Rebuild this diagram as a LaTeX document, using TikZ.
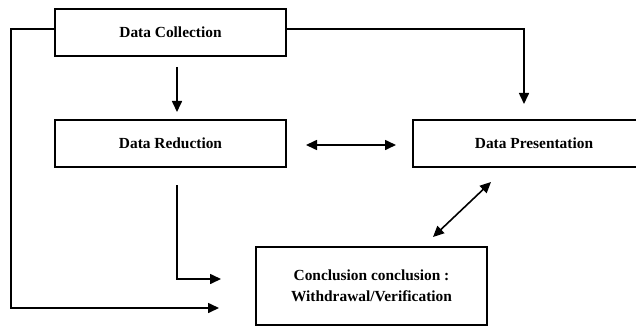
\documentclass[tikz,border=0pt]{standalone}
\usepackage{fontspec}
\setmainfont{Liberation Serif}
\usetikzlibrary{arrows.meta}
\begin{document}
\begin{tikzpicture}[x=1pt,y=-1pt,
  box/.style={draw, line width=1.7pt, inner sep=0pt, font=\bfseries\fontsize{15.4}{21}\selectfont, align=center},
  conn/.style={line width=1.6pt, -{Triangle[length=11pt,width=10pt]}},
  dconn/.style={line width=1.6pt, {Triangle[length=11pt,width=10pt]}-{Triangle[length=11pt,width=10pt]}}]
\useasboundingbox (0,0) rectangle (636,326);
\clip (0,0) rectangle (636,326);
\node[box, minimum width=231pt, minimum height=47pt] (dc) at (170.5,32.5) {Data Collection};
\node[box, minimum width=231pt, minimum height=47pt] (dr) at (170.5,143.5) {Data Reduction};
\node[box, minimum width=242pt, minimum height=47pt] (dp) at (534,143.5) {Data Presentation};
\node[box, minimum width=231pt, minimum height=78pt] (cc) at (371.5,286) {Conclusion conclusion :\\Withdrawal/Verification};
% coordinates for free ends
\coordinate (a1) at (177,67);
\coordinate (a2) at (177,112);
\coordinate (b1) at (524,29);
\coordinate (b2) at (524,104);
\coordinate (l1) at (11,29);
\coordinate (l2) at (11,308);
\coordinate (l3) at (219,308);
\coordinate (r1) at (177,185);
\coordinate (r2) at (177,279);
\coordinate (r3) at (221,279);
\coordinate (h1) at (306,145);
\coordinate (h2) at (396,145);
\coordinate (d1) at (491,182);
\coordinate (d2) at (433,237);
\draw[conn] (a1) -- (a2);
\draw[conn] (dc.east |- b1) -- (b1) -- (b2);
\draw[conn] (dc.west |- l1) -- (l1) -- (l2) -- (l3);
\draw[conn] (r1) -- (r2) -- (r3);
\draw[dconn] (h1) -- (h2);
\draw[dconn] (d1) -- (d2);
\end{tikzpicture}
\end{document}
